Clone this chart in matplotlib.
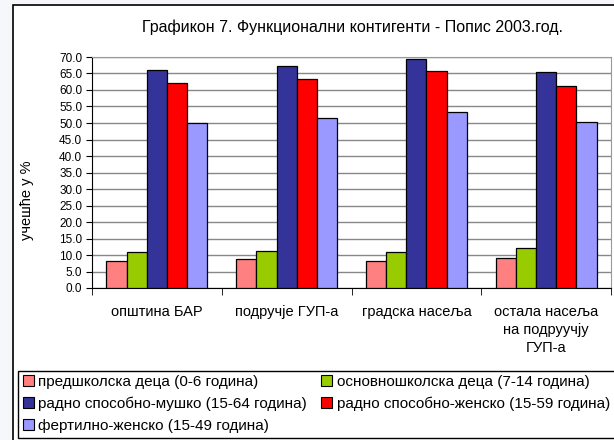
import numpy as np
import matplotlib
matplotlib.use("Agg")
import matplotlib.pyplot as plt
from matplotlib.patches import Rectangle

plt.rcParams['font.family'] = ['Liberation Sans', 'DejaVu Sans']

title = 'Графикон 7. Функционални контигенти - Попис 2003.год.'
categories = ['општина БАР', 'подручје ГУП-а', 'градска насеља',
              'остала насеља\nна подруучју\nГУП-а']
series_names = ['предшколска деца (0-6 година)',
                'основношколска деца (7-14 година)',
                'радно способно-мушко (15-64 година)',
                'радно способно-женско (15-59 година)',
                'фертилно-женско (15-49 година)']
preschool = [8.3, 8.7, 8.3, 9.0]
primary = [10.8, 11.2, 10.8, 12.0]
work_male = [66.2, 67.3, 69.3, 65.5]
work_female = [62.0, 63.2, 65.8, 61.3]
fertile = [49.9, 51.4, 53.2, 50.2]
colors = ['#FF8080', '#99CC00', '#333399', '#FF0000', '#9999FF']
yticks = np.arange(0, 70.1, 5)

W, H = 614, 440
fig = plt.figure(figsize=(W / 100, H / 100), dpi=100, facecolor='#f5f7fa')

# outer chart frame
fig.add_artist(Rectangle((13 / W, -0.05), 1.0, 1 - 5 / H + 0.05, transform=fig.transFigure,
                         facecolor='white', edgecolor='black', lw=1.2, zorder=0))
# legend box (runs off the right edge like the original)
fig.add_artist(Rectangle((18 / W, 1 - 438 / H), 1.0, (438 - 371) / H, transform=fig.transFigure,
                         facecolor='white', edgecolor='black', lw=1.0, zorder=1))

ax = fig.add_axes([92 / W, 1 - 288 / H, (611 - 92) / W, (288 - 57) / H])

series = [preschool, primary, work_male, work_female, fertile]
x = np.arange(len(categories)) + 0.5
bw = 0.156
for i, (vals, c) in enumerate(zip(series, colors)):
    ax.bar(x + (i - 2) * bw, vals, bw, color=c, edgecolor='black', lw=0.9, zorder=3)

ax.set_xlim(0, len(categories))
ax.set_ylim(0, 70)
ax.set_yticks(yticks)
ax.set_yticklabels([f'{v:.1f}' for v in yticks], fontsize=8.5)
ax.set_xticks(x)
ax.set_xticklabels(categories, fontsize=10.5)
ax.set_xticks(np.arange(len(categories) + 1), minor=True)
ax.tick_params(axis='x', which='major', length=0, pad=12)
ax.tick_params(axis='x', which='minor', length=5, direction='out')
ax.tick_params(axis='y', length=4, direction='out', pad=3)
for lab in ax.get_xticklabels():
    lab.set_linespacing(1.4)

ax.yaxis.grid(True, color='#888888', lw=1)
ax.set_axisbelow(True)
for s in ['top', 'right']:
    ax.spines[s].set_color('#999999')
for s in ['left', 'bottom']:
    ax.spines[s].set_color('black')

fig.text(27 / W, 1 - 200 / H, 'учешће у %', rotation=90, ha='center', va='center', fontsize=10.5)
fig.text(352 / W, 1 - 27 / H, title, ha='center', va='center', fontsize=11.5)

order = [0, 2, 4, 1, 3]
handles = [Rectangle((0, 0), 1, 1, facecolor=colors[k], edgecolor='black', lw=0.8) for k in order]
labels = [series_names[k] for k in order]
fig.legend(handles, labels, ncol=2, loc='upper left', bbox_to_anchor=(19 / W, 1 - 371 / H),
           frameon=False, fontsize=11,
           handlelength=0.7, handleheight=0.7, handletextpad=0.3, columnspacing=0.95,
           borderpad=0.25, labelspacing=0.5, borderaxespad=0)

fig.savefig('out.png', dpi=100, facecolor=fig.get_facecolor())
